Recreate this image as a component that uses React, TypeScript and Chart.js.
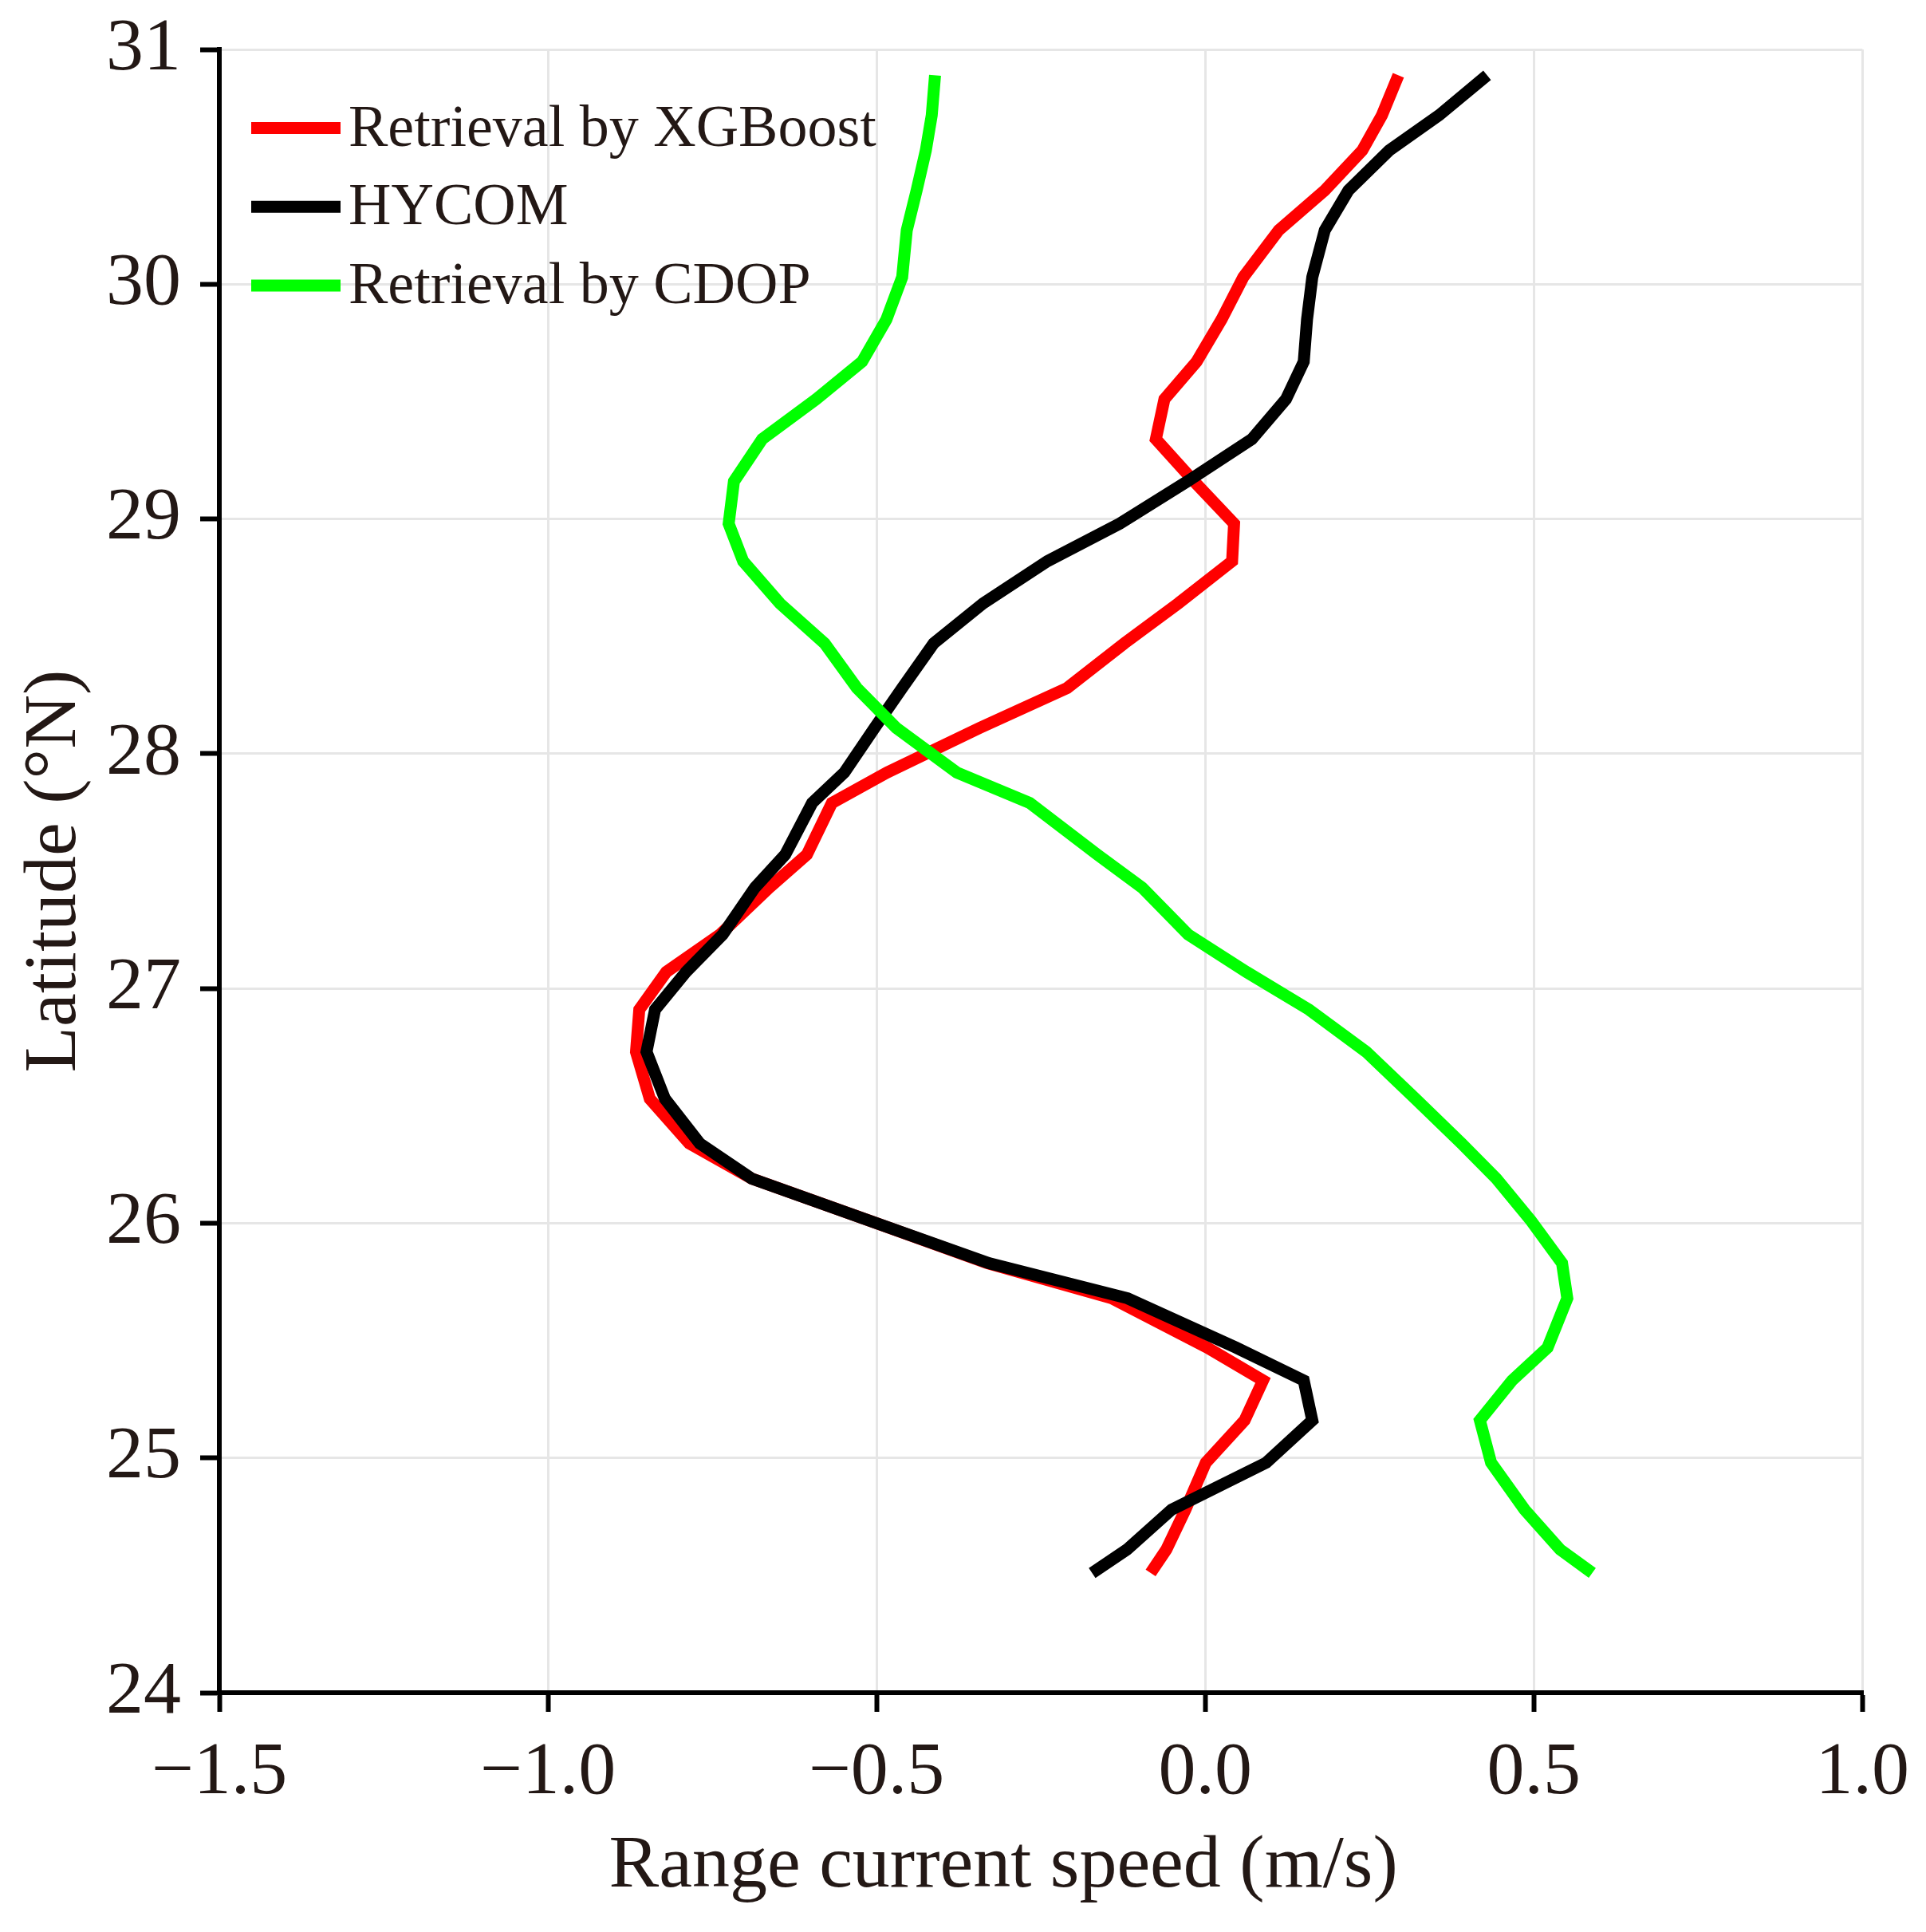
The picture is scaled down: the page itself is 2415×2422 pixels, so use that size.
import React, { useRef, useEffect } from "react";
import Chart from "chart.js/auto";

const latitude = [
  30.89, 30.72, 30.57, 30.4, 30.23, 30.03, 29.85, 29.67, 29.51, 29.34, 29.16,
  28.98, 28.82, 28.64, 28.47, 28.28, 28.11, 27.92, 27.79, 27.57, 27.43, 27.23,
  27.07, 26.91, 26.73, 26.53, 26.34, 26.19, 26.01, 25.83, 25.68, 25.47, 25.33,
  25.16, 24.98, 24.78, 24.61, 24.51,
];

const xgboost = [
  0.294, 0.269, 0.239, 0.182, 0.112, 0.058, 0.025, -0.013, -0.062, -0.075,
  -0.017, 0.044, 0.041, -0.041, -0.123, -0.21, -0.343, -0.484, -0.568, -0.606,
  -0.663, -0.738, -0.82, -0.861, -0.866, -0.845, -0.785, -0.69, -0.51, -0.332,
  -0.142, 0.003, 0.088, 0.06, 0.001, -0.03, -0.059, -0.083,
];

const hycom = [
  0.429, 0.356, 0.28, 0.218, 0.182, 0.163, 0.155, 0.15, 0.123, 0.071, -0.027,
  -0.13, -0.24, -0.338, -0.413, -0.461, -0.503, -0.549, -0.598, -0.639, -0.685,
  -0.734, -0.79, -0.837, -0.85, -0.822, -0.769, -0.69, -0.51, -0.329, -0.118,
  0.047, 0.15, 0.163, 0.093, -0.051, -0.119, -0.172,
];

const cdop = [
  -0.411, -0.416, -0.425, -0.439, -0.454, -0.461, -0.485, -0.522, -0.592,
  -0.674, -0.717, -0.725, -0.703, -0.647, -0.579, -0.53, -0.47, -0.378, -0.267,
  -0.164, -0.096, -0.026, 0.063, 0.158, 0.245, 0.32, 0.39, 0.443, 0.496, 0.543,
  0.551, 0.521, 0.467, 0.418, 0.435, 0.486, 0.54, 0.589,
];

const seriesNames = ["Retrieval by XGBoost", "HYCOM", "Retrieval by CDOP"];
const seriesColors = ["#ff0000", "#000000", "#00ff00"];

const xTickLabels = ["\u22121.5", "\u22121.0", "\u22120.5", "0.0", "0.5", "1.0"];
const yTickLabels = ["24", "25", "26", "27", "28", "29", "30", "31"];

const FONT = '"Liberation Serif", "Times New Roman", serif';
const TEXT = "#231815";

// legend drawn inside the plot, top-left
const insideLegend = {
  id: "insideLegend",
  afterDatasetsDraw(chart: Chart) {
    const { ctx, chartArea } = chart;
    ctx.save();
    seriesNames.forEach((name, i) => {
      const base = chartArea.top + 120.5 + i * 98.75;
      ctx.strokeStyle = seriesColors[i];
      ctx.lineWidth = 15;
      ctx.lineCap = "butt";
      ctx.beginPath();
      ctx.moveTo(chartArea.left + 40, base - 22);
      ctx.lineTo(chartArea.left + 152, base - 22);
      ctx.stroke();
      ctx.fillStyle = TEXT;
      ctx.font = `74px ${FONT}`;
      ctx.textAlign = "left";
      ctx.textBaseline = "alphabetic";
      ctx.fillText(name, chartArea.left + 162, base);
    });
    ctx.restore();
  },
};

const toPoints = (values: number[]) =>
  values.map((v, i) => ({ x: v, y: latitude[i] }));

const App: React.FC = () => {
  const canvasRef = useRef<HTMLCanvasElement>(null);
  const chartInstance = useRef<Chart | null>(null);

  useEffect(() => {
    if (!canvasRef.current) return;
    const ctx = canvasRef.current.getContext("2d");
    if (!ctx) return;

    if (chartInstance.current) chartInstance.current.destroy();

    const lineStyle = {
      showLine: true,
      borderWidth: 15,
      pointRadius: 0,
      pointHoverRadius: 0,
      tension: 0,
      borderJoinStyle: "miter" as const,
      borderCapStyle: "butt" as const,
      fill: false,
    };

    const grid = {
      color: "#e6e6e6",
      lineWidth: 3,
      tickColor: "#000000",
      tickWidth: 6,
      tickLength: 24,
    };

    chartInstance.current = new Chart(ctx, {
      type: "scatter",
      data: {
        datasets: [
          {
            label: seriesNames[0],
            data: toPoints(xgboost),
            borderColor: seriesColors[0],
            backgroundColor: seriesColors[0],
            order: 2,
            ...lineStyle,
          },
          {
            label: seriesNames[1],
            data: toPoints(hycom),
            borderColor: seriesColors[1],
            backgroundColor: seriesColors[1],
            order: 1,
            ...lineStyle,
          },
          {
            label: seriesNames[2],
            data: toPoints(cdop),
            borderColor: seriesColors[2],
            backgroundColor: seriesColors[2],
            order: 0,
            ...lineStyle,
          },
        ],
      },
      options: {
        responsive: false,
        animation: false,
        devicePixelRatio: 1,
        layout: { padding: { top: 62, right: 78, left: 0, bottom: 0 } },
        plugins: {
          legend: { display: false },
          tooltip: { enabled: false },
        },
        scales: {
          x: {
            type: "linear",
            min: -1.5,
            max: 1.0,
            ticks: {
              stepSize: 0.5,
              color: TEXT,
              font: { family: FONT, size: 94 },
              padding: 21,
              callback: (v) => xTickLabels[Math.round((Number(v) + 1.5) / 0.5)],
            },
            grid,
            border: { display: true, color: "#000000", width: 6 },
            title: {
              display: true,
              // trailing spaces nudge the centred title to the left, as in the original
              text: "Range current speed (m/s)\u00a0\u00a0\u00a0\u00a0",
              color: TEXT,
              font: { family: FONT, size: 94 },
              padding: { top: 0, bottom: 25 },
            },
            afterFit: (scale) => {
              scale.height = 300;
            },
          },
          y: {
            type: "linear",
            min: 24,
            max: 31,
            ticks: {
              stepSize: 1,
              color: TEXT,
              font: { family: FONT, size: 94, lineHeight: 0.8 },
              padding: 24,
              callback: (v) => yTickLabels[Math.round(Number(v) - 24)],
            },
            grid,
            border: { display: true, color: "#000000", width: 6 },
            title: {
              display: true,
              text: "Latitude (\u00b0N)",
              color: TEXT,
              font: { family: FONT, size: 94 },
              padding: { top: 13, bottom: 0 },
            },
            afterFit: (scale) => {
              scale.width = 275;
            },
          },
        },
      },
      plugins: [insideLegend],
    });

    return () => {
      if (chartInstance.current) {
        chartInstance.current.destroy();
        chartInstance.current = null;
      }
    };
  }, []);

  return (
    <div
      style={{
        position: "absolute",
        left: 0,
        top: 0,
        width: 2415,
        height: 2422,
        background: "#ffffff",
      }}
    >
      <canvas ref={canvasRef} width={2415} height={2422}></canvas>
    </div>
  );
};

export default App;
